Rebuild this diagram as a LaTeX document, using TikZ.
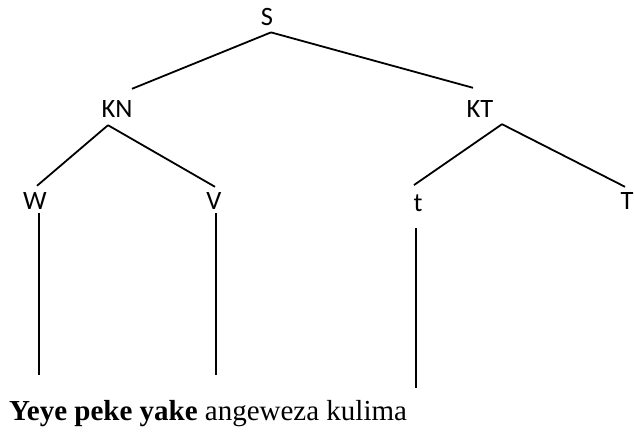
\documentclass[tikz,border=0pt]{standalone}
\usepackage{fontspec}
\setmainfont{Liberation Serif}
\newfontfamily\lblfont{Carlito}
\usepackage{tikz}
\usetikzlibrary{positioning}

\begin{document}
\begin{tikzpicture}[x=1pt, y=-1pt,
    lbl/.style={inner sep=0pt, anchor=base, font=\lblfont\fontsize{26.5}{30}\selectfont},
    branch/.style={line width=1.8pt}]
      \useasboundingbox (0,0) rectangle (634,431);
      % tree labels
      \node[lbl] (S) at (267,25) {S};
      \node[lbl] (KN) at (117,117) {KN};
      \node[lbl] (KT) at (480,117) {KT};
      \node[lbl] (W) at (35,209) {W};
      \node[lbl] (V) at (214,209) {V};
      \node[lbl] (t) at (418,211) {t};
      \node[lbl] (T) at (627,209) {T};
      % sentence
      \node[inner sep=0pt, anchor=base west, font=\fontsize{29}{34}\selectfont] (sent) at (9,420) {\textbf{Yeye peke yake} angeweza kulima};
      \coordinate (Wend) at (39,375);
      \coordinate (Vend) at (216,375);
      \coordinate (tend) at (416,388);
      % branches
      \draw[branch] ([xshift=4pt,yshift=-7pt]S.south) -- ([xshift=15pt,yshift=11pt]KN.north);
      \draw[branch] ([xshift=4pt,yshift=-7pt]S.south) -- ([xshift=-7pt,yshift=12pt]KT.north);
      \draw[branch] ([xshift=-9pt,yshift=-8pt]KN.south) -- ([xshift=2pt,yshift=6pt]W.north);
      \draw[branch] ([xshift=-9pt,yshift=-8pt]KN.south) -- ([xshift=1pt,yshift=5pt]V.north);
      \draw[branch] ([xshift=22pt,yshift=-7pt]KT.south) -- ([xshift=-4pt,yshift=9pt]t.north);
      \draw[branch] ([xshift=22pt,yshift=-7pt]KT.south) -- ([xshift=-2pt,yshift=5pt]T.north);
      \draw[branch] ([xshift=4pt,yshift=-4pt]W.south) -- (Wend);
      \draw[branch] ([xshift=2pt,yshift=-4pt]V.south) -- (Vend);
      \draw[branch] ([xshift=-2pt,yshift=-17pt]t.south) -- (tend);
    \end{tikzpicture}
\end{document}
